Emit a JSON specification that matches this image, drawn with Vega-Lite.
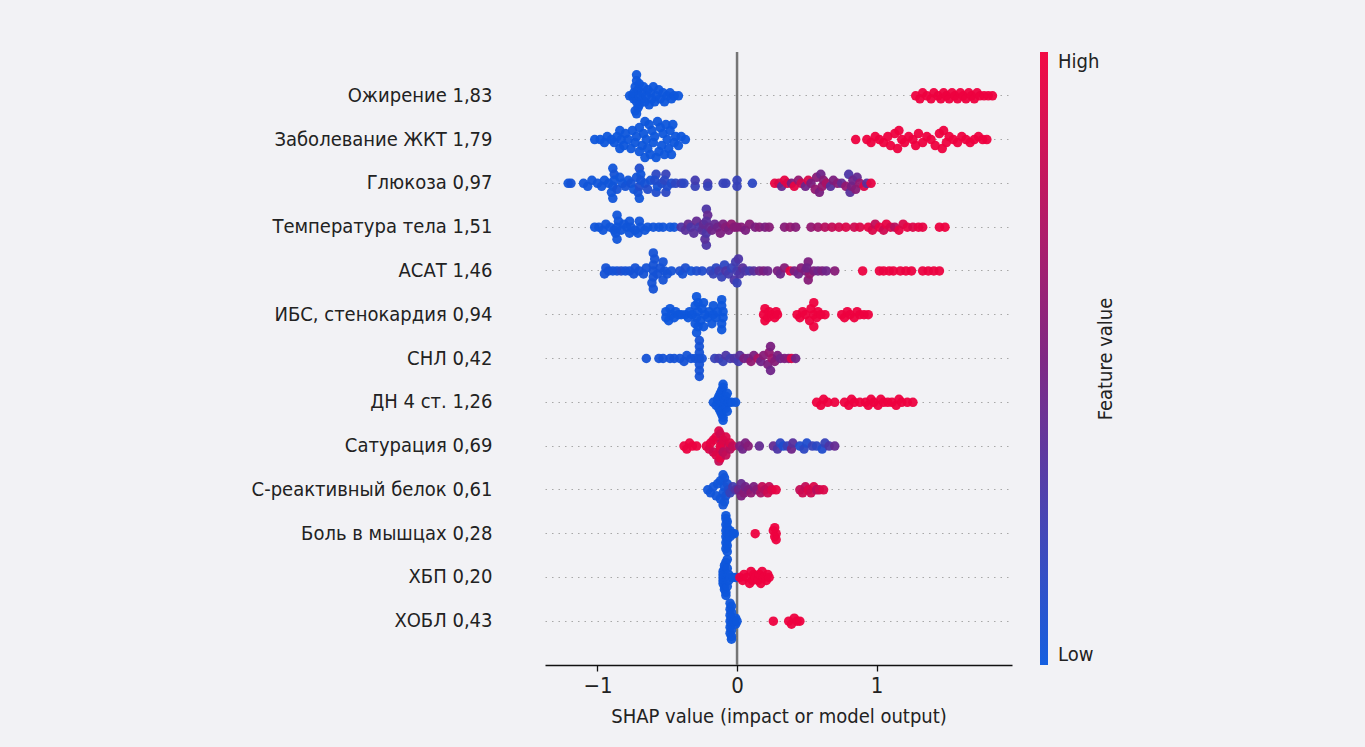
{
  "$schema": "https://vega.github.io/schema/vega-lite/v6.json",
  "width": 467,
  "height": 613,
  "autosize": {"type": "none"},
  "padding": {"left": 545, "top": 52, "right": 353, "bottom": 82},
  "background": "#f2f2f5",
  "config": {
    "view": {"stroke": null},
    "font": "DejaVu Sans Condensed, DejaVu Sans, sans-serif"
  },
  "resolve": {"scale": {"y": "independent"}},
  "datasets": {
    "feat": [
      {"r": 1, "feature": "Ожирение 1,83"},
      {"r": 2, "feature": "Заболевание ЖКТ 1,79"},
      {"r": 3, "feature": "Глюкоза 0,97"},
      {"r": 4, "feature": "Температура тела 1,51"},
      {"r": 5, "feature": "АСАТ 1,46"},
      {"r": 6, "feature": "ИБС, стенокардия 0,94"},
      {"r": 7, "feature": "СНЛ 0,42"},
      {"r": 8, "feature": "ДН 4 ст. 1,26"},
      {"r": 9, "feature": "Сатурация 0,69"},
      {"r": 10, "feature": "С-реактивный белок 0,61"},
      {"r": 11, "feature": "Боль в мышцах 0,28"},
      {"r": 12, "feature": "ХБП 0,20"},
      {"r": 13, "feature": "ХОБЛ 0,43"}
    ],
    "zero": [{"x": 0}],
    "pts": [
      {"r":1,"x":-0.77,"j":0,"c":0.02},{"r":1,"x":-0.75,"j":0,"c":0.02},{"r":1,"x":-0.74,"j":1,"c":0.02},{"r":1,"x":-0.74,"j":-1,"c":0.02},{"r":1,"x":-0.72,"j":-7,"c":0.02},{"r":1,"x":-0.72,"j":-5,"c":0.02},{"r":1,"x":-0.73,"j":-3,"c":0.02},{"r":1,"x":-0.71,"j":-2,"c":0.02},{"r":1,"x":-0.72,"j":2,"c":0.02},{"r":1,"x":-0.71,"j":4,"c":0.02},{"r":1,"x":-0.72,"j":6,"c":0.02},{"r":1,"x":-0.70,"j":-4,"c":0.02},{"r":1,"x":-0.70,"j":0,"c":0.02},{"r":1,"x":-0.70,"j":3,"c":0.02},{"r":1,"x":-0.73,"j":5,"c":0.02},{"r":1,"x":-0.68,"j":-1,"c":0.02},{"r":1,"x":-0.68,"j":1,"c":0.02},{"r":1,"x":-0.67,"j":-3,"c":0.02},{"r":1,"x":-0.66,"j":2,"c":0.02},{"r":1,"x":-0.65,"j":0,"c":0.02},{"r":1,"x":-0.64,"j":-2,"c":0.02},{"r":1,"x":-0.63,"j":3,"c":0.02},{"r":1,"x":-0.62,"j":-1,"c":0.02},{"r":1,"x":-0.61,"j":1,"c":0.02},{"r":1,"x":-0.60,"j":-3,"c":0.02},{"r":1,"x":-0.59,"j":2,"c":0.02},{"r":1,"x":-0.58,"j":0,"c":0.02},{"r":1,"x":-0.56,"j":-2,"c":0.02},{"r":1,"x":-0.55,"j":1,"c":0.02},{"r":1,"x":-0.53,"j":-1,"c":0.02},{"r":1,"x":-0.52,"j":2,"c":0.02},{"r":1,"x":-0.50,"j":0,"c":0.02},{"r":1,"x":-0.48,"j":-1,"c":0.02},{"r":1,"x":-0.47,"j":1,"c":0.02},{"r":1,"x":-0.45,"j":0,"c":0.02},{"r":1,"x":-0.42,"j":0,"c":0.02},
      {"r":1,"x":1.28,"j":0,"c":0.98},{"r":1,"x":1.31,"j":1,"c":0.98},{"r":1,"x":1.33,"j":-1,"c":0.98},{"r":1,"x":1.36,"j":0,"c":0.98},{"r":1,"x":1.39,"j":1,"c":0.98},{"r":1,"x":1.41,"j":-1,"c":0.98},{"r":1,"x":1.44,"j":0,"c":0.98},{"r":1,"x":1.46,"j":1,"c":0.98},{"r":1,"x":1.48,"j":-1,"c":0.98},{"r":1,"x":1.50,"j":0,"c":0.98},{"r":1,"x":1.52,"j":1,"c":0.98},{"r":1,"x":1.54,"j":-1,"c":0.98},{"r":1,"x":1.56,"j":0,"c":0.98},{"r":1,"x":1.58,"j":1,"c":0.98},{"r":1,"x":1.60,"j":-1,"c":0.98},{"r":1,"x":1.62,"j":0,"c":0.98},{"r":1,"x":1.64,"j":1,"c":0.98},{"r":1,"x":1.66,"j":-1,"c":0.98},{"r":1,"x":1.68,"j":0,"c":0.98},{"r":1,"x":1.70,"j":1,"c":0.98},{"r":1,"x":1.72,"j":-1,"c":0.98},{"r":1,"x":1.74,"j":0,"c":0.98},{"r":1,"x":1.77,"j":0,"c":0.98},{"r":1,"x":1.80,"j":0,"c":0.98},{"r":1,"x":1.83,"j":0,"c":0.98},
      {"r":2,"x":-1.02,"j":0,"c":0.02},{"r":2,"x":-0.98,"j":0,"c":0.02},{"r":2,"x":-0.95,"j":1,"c":0.02},{"r":2,"x":-0.93,"j":-1,"c":0.02},{"r":2,"x":-0.90,"j":0,"c":0.02},{"r":2,"x":-0.88,"j":1,"c":0.02},{"r":2,"x":-0.86,"j":-1,"c":0.02},{"r":2,"x":-0.84,"j":3,"c":0.02},{"r":2,"x":-0.84,"j":-3,"c":0.02},{"r":2,"x":-0.83,"j":0,"c":0.02},{"r":2,"x":-0.81,"j":2,"c":0.02},{"r":2,"x":-0.80,"j":-2,"c":0.02},{"r":2,"x":-0.78,"j":0,"c":0.02},{"r":2,"x":-0.76,"j":3,"c":0.02},{"r":2,"x":-0.75,"j":-3,"c":0.02},{"r":2,"x":-0.73,"j":1,"c":0.02},{"r":2,"x":-0.72,"j":-1,"c":0.02},{"r":2,"x":-0.70,"j":4,"c":0.02},{"r":2,"x":-0.70,"j":-4,"c":0.02},{"r":2,"x":-0.68,"j":2,"c":0.02},{"r":2,"x":-0.67,"j":-2,"c":0.02},{"r":2,"x":-0.66,"j":6,"c":0.02},{"r":2,"x":-0.66,"j":-6,"c":0.02},{"r":2,"x":-0.65,"j":0,"c":0.02},{"r":2,"x":-0.64,"j":3,"c":0.02},{"r":2,"x":-0.63,"j":-5,"c":0.02},{"r":2,"x":-0.62,"j":5,"c":0.02},{"r":2,"x":-0.61,"j":-3,"c":0.02},{"r":2,"x":-0.60,"j":1,"c":0.02},{"r":2,"x":-0.59,"j":-1,"c":0.02},{"r":2,"x":-0.58,"j":6,"c":0.02},{"r":2,"x":-0.57,"j":-6,"c":0.02},{"r":2,"x":-0.56,"j":4,"c":0.02},{"r":2,"x":-0.55,"j":-4,"c":0.02},{"r":2,"x":-0.54,"j":2,"c":0.02},{"r":2,"x":-0.53,"j":-2,"c":0.02},{"r":2,"x":-0.52,"j":5,"c":0.02},{"r":2,"x":-0.51,"j":-5,"c":0.02},{"r":2,"x":-0.50,"j":0,"c":0.02},{"r":2,"x":-0.49,"j":3,"c":0.02},{"r":2,"x":-0.48,"j":-3,"c":0.02},{"r":2,"x":-0.47,"j":5,"c":0.02},{"r":2,"x":-0.46,"j":-5,"c":0.02},{"r":2,"x":-0.45,"j":1,"c":0.02},{"r":2,"x":-0.44,"j":-1,"c":0.02},{"r":2,"x":-0.42,"j":2,"c":0.02},{"r":2,"x":-0.40,"j":-1,"c":0.02},{"r":2,"x":-0.37,"j":0,"c":0.02},
      {"r":2,"x":0.85,"j":0,"c":0.98},{"r":2,"x":0.93,"j":0,"c":0.98},{"r":2,"x":0.96,"j":1,"c":0.98},{"r":2,"x":0.99,"j":-1,"c":0.98},{"r":2,"x":1.02,"j":0,"c":0.98},{"r":2,"x":1.05,"j":1,"c":0.98},{"r":2,"x":1.08,"j":-1,"c":0.98},{"r":2,"x":1.10,"j":2,"c":0.98},{"r":2,"x":1.13,"j":-2,"c":0.98},{"r":2,"x":1.15,"j":3,"c":0.98},{"r":2,"x":1.16,"j":-3,"c":0.98},{"r":2,"x":1.18,"j":0,"c":0.98},{"r":2,"x":1.20,"j":1,"c":0.98},{"r":2,"x":1.23,"j":-1,"c":0.98},{"r":2,"x":1.26,"j":0,"c":0.98},{"r":2,"x":1.28,"j":2,"c":0.98},{"r":2,"x":1.30,"j":-2,"c":0.98},{"r":2,"x":1.33,"j":1,"c":0.98},{"r":2,"x":1.36,"j":-1,"c":0.98},{"r":2,"x":1.39,"j":0,"c":0.98},{"r":2,"x":1.42,"j":2,"c":0.98},{"r":2,"x":1.45,"j":-2,"c":0.98},{"r":2,"x":1.47,"j":3,"c":0.98},{"r":2,"x":1.48,"j":-3,"c":0.98},{"r":2,"x":1.50,"j":1,"c":0.98},{"r":2,"x":1.52,"j":-1,"c":0.98},{"r":2,"x":1.55,"j":0,"c":0.98},{"r":2,"x":1.58,"j":1,"c":0.98},{"r":2,"x":1.61,"j":-1,"c":0.98},{"r":2,"x":1.64,"j":0,"c":0.98},{"r":2,"x":1.67,"j":1,"c":0.98},{"r":2,"x":1.70,"j":0,"c":0.98},{"r":2,"x":1.73,"j":-1,"c":0.98},{"r":2,"x":1.76,"j":0,"c":0.98},{"r":2,"x":1.79,"j":0,"c":0.98},
      {"r":3,"x":-1.21,"j":0,"c":0.03},{"r":3,"x":-1.19,"j":0,"c":0.05},{"r":3,"x":-1.10,"j":0,"c":0.03},{"r":3,"x":-1.07,"j":1,"c":0.03},{"r":3,"x":-1.04,"j":-1,"c":0.03},{"r":3,"x":-1.00,"j":0,"c":0.03},{"r":3,"x":-0.97,"j":1,"c":0.03},{"r":3,"x":-0.95,"j":-1,"c":0.03},{"r":3,"x":-0.92,"j":0,"c":0.03},{"r":3,"x":-0.89,"j":5,"c":0.03},{"r":3,"x":-0.89,"j":-5,"c":0.03},{"r":3,"x":-0.90,"j":3,"c":0.03},{"r":3,"x":-0.88,"j":-3,"c":0.05},{"r":3,"x":-0.89,"j":1,"c":0.03},{"r":3,"x":-0.88,"j":-1,"c":0.03},{"r":3,"x":-0.86,"j":2,"c":0.05},{"r":3,"x":-0.84,"j":-2,"c":0.03},{"r":3,"x":-0.82,"j":0,"c":0.03},{"r":3,"x":-0.80,"j":1,"c":0.05},{"r":3,"x":-0.78,"j":-1,"c":0.03},{"r":3,"x":-0.76,"j":0,"c":0.05},{"r":3,"x":-0.74,"j":2,"c":0.03},{"r":3,"x":-0.72,"j":-2,"c":0.05},{"r":3,"x":-0.70,"j":5,"c":0.03},{"r":3,"x":-0.70,"j":-5,"c":0.1},{"r":3,"x":-0.71,"j":3,"c":0.05},{"r":3,"x":-0.69,"j":-3,"c":0.03},{"r":3,"x":-0.70,"j":1,"c":0.1},{"r":3,"x":-0.69,"j":-1,"c":0.05},{"r":3,"x":-0.66,"j":0,"c":0.05},{"r":3,"x":-0.64,"j":2,"c":0.1},{"r":3,"x":-0.62,"j":-1,"c":0.05},{"r":3,"x":-0.58,"j":3,"c":0.1},{"r":3,"x":-0.58,"j":-3,"c":0.15},{"r":3,"x":-0.57,"j":1,"c":0.05},{"r":3,"x":-0.59,"j":-1,"c":0.1},{"r":3,"x":-0.54,"j":0,"c":0.1},{"r":3,"x":-0.51,"j":3,"c":0.15},{"r":3,"x":-0.51,"j":-3,"c":0.2},{"r":3,"x":-0.50,"j":1,"c":0.1},{"r":3,"x":-0.52,"j":-1,"c":0.15},{"r":3,"x":-0.47,"j":0,"c":0.1},{"r":3,"x":-0.44,"j":0,"c":0.15},{"r":3,"x":-0.40,"j":0,"c":0.2},{"r":3,"x":-0.38,"j":0,"c":0.15},{"r":3,"x":-0.30,"j":1,"c":0.2},{"r":3,"x":-0.30,"j":-1,"c":0.25},{"r":3,"x":-0.21,"j":0,"c":0.25},{"r":3,"x":-0.21,"j":1,"c":0.2},{"r":3,"x":-0.10,"j":0,"c":0.2},{"r":3,"x":-0.08,"j":0,"c":0.2},{"r":3,"x":0.0,"j":1,"c":0.2},{"r":3,"x":0.0,"j":-1,"c":0.2},{"r":3,"x":0.11,"j":0,"c":0.15},
      {"r":3,"x":0.27,"j":0,"c":0.95},{"r":3,"x":0.30,"j":0,"c":0.9},{"r":3,"x":0.32,"j":1,"c":0.4},{"r":3,"x":0.34,"j":-1,"c":0.95},{"r":3,"x":0.36,"j":0,"c":0.9},{"r":3,"x":0.39,"j":0,"c":0.5},{"r":3,"x":0.41,"j":1,"c":0.95},{"r":3,"x":0.44,"j":-1,"c":0.6},{"r":3,"x":0.46,"j":0,"c":0.85},{"r":3,"x":0.49,"j":1,"c":0.45},{"r":3,"x":0.51,"j":-1,"c":0.9},{"r":3,"x":0.53,"j":0,"c":0.5},{"r":3,"x":0.56,"j":2,"c":0.6},{"r":3,"x":0.57,"j":-2,"c":0.55},{"r":3,"x":0.59,"j":3,"c":0.5},{"r":3,"x":0.60,"j":-3,"c":0.45},{"r":3,"x":0.61,"j":1,"c":0.6},{"r":3,"x":0.62,"j":-1,"c":0.55},{"r":3,"x":0.64,"j":0,"c":0.7},{"r":3,"x":0.67,"j":1,"c":0.35},{"r":3,"x":0.69,"j":-1,"c":0.5},{"r":3,"x":0.72,"j":0,"c":0.55},{"r":3,"x":0.75,"j":0,"c":0.4},{"r":3,"x":0.78,"j":1,"c":0.6},{"r":3,"x":0.80,"j":-3,"c":0.3},{"r":3,"x":0.81,"j":3,"c":0.35},{"r":3,"x":0.82,"j":1,"c":0.5},{"r":3,"x":0.83,"j":-1,"c":0.45},{"r":3,"x":0.85,"j":2,"c":0.55},{"r":3,"x":0.86,"j":-2,"c":0.4},{"r":3,"x":0.88,"j":0,"c":0.6},{"r":3,"x":0.91,"j":1,"c":0.9},{"r":3,"x":0.93,"j":0,"c":0.35},{"r":3,"x":0.96,"j":0,"c":0.95},
      {"r":4,"x":-1.02,"j":0,"c":0.03},{"r":4,"x":-0.99,"j":0,"c":0.03},{"r":4,"x":-0.96,"j":1,"c":0.03},{"r":4,"x":-0.94,"j":-1,"c":0.03},{"r":4,"x":-0.91,"j":0,"c":0.03},{"r":4,"x":-0.88,"j":1,"c":0.03},{"r":4,"x":-0.86,"j":4,"c":0.03},{"r":4,"x":-0.86,"j":-4,"c":0.03},{"r":4,"x":-0.87,"j":2,"c":0.03},{"r":4,"x":-0.85,"j":-2,"c":0.03},{"r":4,"x":-0.86,"j":0,"c":0.03},{"r":4,"x":-0.83,"j":1,"c":0.03},{"r":4,"x":-0.81,"j":-1,"c":0.03},{"r":4,"x":-0.79,"j":0,"c":0.03},{"r":4,"x":-0.77,"j":2,"c":0.03},{"r":4,"x":-0.77,"j":-2,"c":0.03},{"r":4,"x":-0.76,"j":0,"c":0.03},{"r":4,"x":-0.73,"j":1,"c":0.03},{"r":4,"x":-0.71,"j":2,"c":0.03},{"r":4,"x":-0.70,"j":-2,"c":0.03},{"r":4,"x":-0.69,"j":0,"c":0.03},{"r":4,"x":-0.66,"j":1,"c":0.03},{"r":4,"x":-0.64,"j":0,"c":0.03},{"r":4,"x":-0.60,"j":0,"c":0.03},{"r":4,"x":-0.56,"j":0,"c":0.03},{"r":4,"x":-0.53,"j":0,"c":0.03},{"r":4,"x":-0.48,"j":0,"c":0.03},{"r":4,"x":-0.45,"j":0,"c":0.03},
      {"r":4,"x":-0.40,"j":0,"c":0.3},{"r":4,"x":-0.37,"j":1,"c":0.35},{"r":4,"x":-0.35,"j":-1,"c":0.4},{"r":4,"x":-0.33,"j":0,"c":0.3},{"r":4,"x":-0.31,"j":2,"c":0.35},{"r":4,"x":-0.29,"j":-2,"c":0.4},{"r":4,"x":-0.27,"j":0,"c":0.3},{"r":4,"x":-0.25,"j":1,"c":0.35},{"r":4,"x":-0.24,"j":-1,"c":0.4},{"r":4,"x":-0.22,"j":6,"c":0.3},{"r":4,"x":-0.22,"j":-6,"c":0.3},{"r":4,"x":-0.23,"j":4,"c":0.35},{"r":4,"x":-0.21,"j":-4,"c":0.4},{"r":4,"x":-0.22,"j":2,"c":0.3},{"r":4,"x":-0.22,"j":-2,"c":0.35},{"r":4,"x":-0.20,"j":0,"c":0.4},{"r":4,"x":-0.18,"j":1,"c":0.45},{"r":4,"x":-0.16,"j":-1,"c":0.4},{"r":4,"x":-0.14,"j":0,"c":0.45},{"r":4,"x":-0.12,"j":2,"c":0.5},{"r":4,"x":-0.10,"j":-1,"c":0.5},{"r":4,"x":-0.08,"j":0,"c":0.55},{"r":4,"x":-0.06,"j":1,"c":0.5},{"r":4,"x":-0.04,"j":-1,"c":0.6},{"r":4,"x":-0.02,"j":0,"c":0.55},{"r":4,"x":0.00,"j":0,"c":0.55},
      {"r":4,"x":0.03,"j":0,"c":0.55},{"r":4,"x":0.06,"j":1,"c":0.5},{"r":4,"x":0.09,"j":-1,"c":0.55},{"r":4,"x":0.13,"j":0,"c":0.5},{"r":4,"x":0.16,"j":0,"c":0.55},{"r":4,"x":0.20,"j":0,"c":0.5},{"r":4,"x":0.23,"j":0,"c":0.55},{"r":4,"x":0.34,"j":0,"c":0.55},{"r":4,"x":0.38,"j":0,"c":0.6},{"r":4,"x":0.42,"j":0,"c":0.55},{"r":4,"x":0.53,"j":0,"c":0.6},{"r":4,"x":0.58,"j":0,"c":0.65},{"r":4,"x":0.63,"j":0,"c":0.75},{"r":4,"x":0.68,"j":0,"c":0.8},{"r":4,"x":0.73,"j":0,"c":0.85},{"r":4,"x":0.78,"j":0,"c":0.9},{"r":4,"x":0.84,"j":0,"c":0.85},{"r":4,"x":0.88,"j":0,"c":0.9},{"r":4,"x":0.94,"j":0,"c":0.95},{"r":4,"x":0.97,"j":1,"c":0.9},{"r":4,"x":0.99,"j":-1,"c":0.8},{"r":4,"x":1.02,"j":0,"c":0.95},{"r":4,"x":1.05,"j":1,"c":0.85},{"r":4,"x":1.07,"j":-1,"c":0.95},{"r":4,"x":1.10,"j":0,"c":0.9},{"r":4,"x":1.13,"j":0,"c":0.75},{"r":4,"x":1.16,"j":1,"c":0.95},{"r":4,"x":1.19,"j":-1,"c":0.9},{"r":4,"x":1.22,"j":0,"c":0.95},{"r":4,"x":1.26,"j":0,"c":0.9},{"r":4,"x":1.30,"j":0,"c":0.95},{"r":4,"x":1.33,"j":0,"c":0.95},{"r":4,"x":1.45,"j":0,"c":0.97},{"r":4,"x":1.49,"j":0,"c":0.98},
      {"r":5,"x":-0.95,"j":1,"c":0.05},{"r":5,"x":-0.94,"j":-1,"c":0.05},{"r":5,"x":-0.92,"j":0,"c":0.05},{"r":5,"x":-0.89,"j":0,"c":0.05},{"r":5,"x":-0.86,"j":0,"c":0.05},{"r":5,"x":-0.83,"j":0,"c":0.08},{"r":5,"x":-0.80,"j":0,"c":0.05},{"r":5,"x":-0.77,"j":0,"c":0.05},{"r":5,"x":-0.74,"j":1,"c":0.05},{"r":5,"x":-0.73,"j":-1,"c":0.05},{"r":5,"x":-0.70,"j":0,"c":0.05},{"r":5,"x":-0.67,"j":1,"c":0.05},{"r":5,"x":-0.65,"j":-1,"c":0.05},{"r":5,"x":-0.60,"j":6,"c":0.05},{"r":5,"x":-0.60,"j":-6,"c":0.05},{"r":5,"x":-0.61,"j":4,"c":0.05},{"r":5,"x":-0.59,"j":-4,"c":0.05},{"r":5,"x":-0.60,"j":2,"c":0.05},{"r":5,"x":-0.60,"j":-2,"c":0.05},{"r":5,"x":-0.60,"j":0,"c":0.05},{"r":5,"x":-0.57,"j":1,"c":0.05},{"r":5,"x":-0.55,"j":-1,"c":0.05},{"r":5,"x":-0.53,"j":3,"c":0.05},{"r":5,"x":-0.53,"j":-3,"c":0.05},{"r":5,"x":-0.52,"j":0,"c":0.05},{"r":5,"x":-0.50,"j":1,"c":0.05},{"r":5,"x":-0.47,"j":0,"c":0.05},{"r":5,"x":-0.41,"j":0,"c":0.08},{"r":5,"x":-0.39,"j":1,"c":0.05},{"r":5,"x":-0.37,"j":-1,"c":0.08},{"r":5,"x":-0.33,"j":0,"c":0.05},{"r":5,"x":-0.29,"j":0,"c":0.08},{"r":5,"x":-0.25,"j":0,"c":0.1},
      {"r":5,"x":-0.19,"j":0,"c":0.15},{"r":5,"x":-0.17,"j":1,"c":0.2},{"r":5,"x":-0.15,"j":-1,"c":0.15},{"r":5,"x":-0.13,"j":0,"c":0.25},{"r":5,"x":-0.11,"j":2,"c":0.2},{"r":5,"x":-0.09,"j":-2,"c":0.15},{"r":5,"x":-0.08,"j":0,"c":0.3},{"r":5,"x":-0.06,"j":1,"c":0.25},{"r":5,"x":-0.04,"j":-1,"c":0.2},{"r":5,"x":-0.02,"j":3,"c":0.3},{"r":5,"x":-0.01,"j":-3,"c":0.25},{"r":5,"x":0.00,"j":4,"c":0.2},{"r":5,"x":0.01,"j":-4,"c":0.3},{"r":5,"x":0.00,"j":0,"c":0.25},{"r":5,"x":0.02,"j":1,"c":0.3},{"r":5,"x":0.04,"j":-1,"c":0.35},{"r":5,"x":0.06,"j":0,"c":0.3},{"r":5,"x":0.09,"j":0,"c":0.25},{"r":5,"x":0.12,"j":0,"c":0.35},{"r":5,"x":0.16,"j":0,"c":0.45},{"r":5,"x":0.19,"j":0,"c":0.5},{"r":5,"x":0.22,"j":0,"c":0.45},
      {"r":5,"x":0.29,"j":0,"c":0.5},{"r":5,"x":0.31,"j":1,"c":0.45},{"r":5,"x":0.34,"j":-1,"c":0.55},{"r":5,"x":0.38,"j":0,"c":0.95},{"r":5,"x":0.41,"j":0,"c":0.5},{"r":5,"x":0.44,"j":1,"c":0.45},{"r":5,"x":0.46,"j":-1,"c":0.55},{"r":5,"x":0.49,"j":0,"c":0.5},{"r":5,"x":0.51,"j":3,"c":0.55},{"r":5,"x":0.51,"j":-3,"c":0.5},{"r":5,"x":0.52,"j":1,"c":0.6},{"r":5,"x":0.50,"j":-1,"c":0.45},{"r":5,"x":0.55,"j":0,"c":0.5},{"r":5,"x":0.58,"j":0,"c":0.45},{"r":5,"x":0.61,"j":0,"c":0.5},{"r":5,"x":0.64,"j":0,"c":0.45},{"r":5,"x":0.70,"j":0,"c":0.55},{"r":5,"x":0.90,"j":0,"c":0.97},{"r":5,"x":1.02,"j":0,"c":0.97},{"r":5,"x":1.05,"j":0,"c":0.97},{"r":5,"x":1.09,"j":0,"c":0.97},{"r":5,"x":1.12,"j":0,"c":0.97},{"r":5,"x":1.17,"j":0,"c":0.97},{"r":5,"x":1.21,"j":0,"c":0.97},{"r":5,"x":1.25,"j":0,"c":0.97},{"r":5,"x":1.33,"j":0,"c":0.97},{"r":5,"x":1.37,"j":0,"c":0.97},{"r":5,"x":1.41,"j":0,"c":0.97},{"r":5,"x":1.45,"j":0,"c":0.97},
      {"r":6,"x":-0.51,"j":1,"c":0.02},{"r":6,"x":-0.51,"j":-1,"c":0.02},{"r":6,"x":-0.49,"j":2,"c":0.02},{"r":6,"x":-0.48,"j":-2,"c":0.02},{"r":6,"x":-0.47,"j":0,"c":0.02},{"r":6,"x":-0.45,"j":1,"c":0.02},{"r":6,"x":-0.44,"j":-1,"c":0.02},{"r":6,"x":-0.42,"j":0,"c":0.02},{"r":6,"x":-0.40,"j":0,"c":0.02},{"r":6,"x":-0.37,"j":0,"c":0.02},{"r":6,"x":-0.35,"j":1,"c":0.02},{"r":6,"x":-0.34,"j":-1,"c":0.02},{"r":6,"x":-0.32,"j":0,"c":0.02},{"r":6,"x":-0.30,"j":3,"c":0.02},{"r":6,"x":-0.30,"j":-3,"c":0.02},{"r":6,"x":-0.29,"j":6,"c":0.02},{"r":6,"x":-0.29,"j":-6,"c":0.02},{"r":6,"x":-0.28,"j":4,"c":0.02},{"r":6,"x":-0.28,"j":-4,"c":0.02},{"r":6,"x":-0.29,"j":1,"c":0.02},{"r":6,"x":-0.28,"j":-1,"c":0.02},{"r":6,"x":-0.26,"j":2,"c":0.02},{"r":6,"x":-0.25,"j":-2,"c":0.02},{"r":6,"x":-0.24,"j":4,"c":0.02},{"r":6,"x":-0.24,"j":-4,"c":0.02},{"r":6,"x":-0.23,"j":0,"c":0.02},{"r":6,"x":-0.21,"j":1,"c":0.02},{"r":6,"x":-0.20,"j":-1,"c":0.02},{"r":6,"x":-0.18,"j":3,"c":0.02},{"r":6,"x":-0.17,"j":-3,"c":0.02},{"r":6,"x":-0.17,"j":0,"c":0.02},{"r":6,"x":-0.15,"j":1,"c":0.02},{"r":6,"x":-0.14,"j":-1,"c":0.02},{"r":6,"x":-0.11,"j":5,"c":0.02},{"r":6,"x":-0.11,"j":-5,"c":0.02},{"r":6,"x":-0.11,"j":3,"c":0.02},{"r":6,"x":-0.11,"j":-3,"c":0.02},{"r":6,"x":-0.10,"j":1,"c":0.02},{"r":6,"x":-0.10,"j":-1,"c":0.02},
      {"r":6,"x":0.19,"j":0,"c":0.98},{"r":6,"x":0.20,"j":2,"c":0.98},{"r":6,"x":0.20,"j":-2,"c":0.98},{"r":6,"x":0.22,"j":1,"c":0.98},{"r":6,"x":0.23,"j":-1,"c":0.98},{"r":6,"x":0.25,"j":0,"c":0.98},{"r":6,"x":0.27,"j":1,"c":0.98},{"r":6,"x":0.28,"j":-1,"c":0.98},{"r":6,"x":0.29,"j":0,"c":0.98},{"r":6,"x":0.43,"j":0,"c":0.98},{"r":6,"x":0.45,"j":1,"c":0.98},{"r":6,"x":0.47,"j":-1,"c":0.98},{"r":6,"x":0.49,"j":0,"c":0.98},{"r":6,"x":0.52,"j":2,"c":0.98},{"r":6,"x":0.53,"j":-2,"c":0.98},{"r":6,"x":0.55,"j":4,"c":0.98},{"r":6,"x":0.55,"j":-4,"c":0.98},{"r":6,"x":0.55,"j":0,"c":0.98},{"r":6,"x":0.57,"j":1,"c":0.98},{"r":6,"x":0.58,"j":-1,"c":0.98},{"r":6,"x":0.60,"j":0,"c":0.98},{"r":6,"x":0.63,"j":0,"c":0.98},{"r":6,"x":0.75,"j":0,"c":0.98},{"r":6,"x":0.77,"j":1,"c":0.98},{"r":6,"x":0.79,"j":-1,"c":0.98},{"r":6,"x":0.81,"j":0,"c":0.98},{"r":6,"x":0.84,"j":1,"c":0.98},{"r":6,"x":0.86,"j":-1,"c":0.98},{"r":6,"x":0.88,"j":0,"c":0.98},{"r":6,"x":0.91,"j":0,"c":0.98},{"r":6,"x":0.94,"j":0,"c":0.98},
      {"r":7,"x":-0.65,"j":0,"c":0.05},{"r":7,"x":-0.56,"j":0,"c":0.05},{"r":7,"x":-0.53,"j":0,"c":0.05},{"r":7,"x":-0.48,"j":0,"c":0.05},{"r":7,"x":-0.45,"j":0,"c":0.05},{"r":7,"x":-0.41,"j":0,"c":0.05},{"r":7,"x":-0.38,"j":1,"c":0.05},{"r":7,"x":-0.36,"j":-1,"c":0.05},{"r":7,"x":-0.33,"j":0,"c":0.05},{"r":7,"x":-0.30,"j":0,"c":0.05},{"r":7,"x":-0.27,"j":6,"c":0.05},{"r":7,"x":-0.27,"j":-6,"c":0.05},{"r":7,"x":-0.27,"j":4,"c":0.05},{"r":7,"x":-0.27,"j":-4,"c":0.05},{"r":7,"x":-0.27,"j":2,"c":0.05},{"r":7,"x":-0.27,"j":-2,"c":0.05},{"r":7,"x":-0.27,"j":0,"c":0.05},{"r":7,"x":-0.25,"j":0,"c":0.05},
      {"r":7,"x":-0.16,"j":0,"c":0.2},{"r":7,"x":-0.13,"j":0,"c":0.25},{"r":7,"x":-0.10,"j":1,"c":0.2},{"r":7,"x":-0.08,"j":-1,"c":0.3},{"r":7,"x":-0.05,"j":0,"c":0.25},{"r":7,"x":-0.02,"j":0,"c":0.3},{"r":7,"x":0.01,"j":1,"c":0.25},{"r":7,"x":0.02,"j":-1,"c":0.35},{"r":7,"x":0.05,"j":0,"c":0.5},{"r":7,"x":0.08,"j":0,"c":0.45},{"r":7,"x":0.10,"j":1,"c":0.6},{"r":7,"x":0.12,"j":-1,"c":0.5},{"r":7,"x":0.15,"j":0,"c":0.7},{"r":7,"x":0.17,"j":1,"c":0.45},{"r":7,"x":0.19,"j":-1,"c":0.55},{"r":7,"x":0.22,"j":2,"c":0.5},{"r":7,"x":0.23,"j":-2,"c":0.6},{"r":7,"x":0.24,"j":4,"c":0.45},{"r":7,"x":0.24,"j":-4,"c":0.5},{"r":7,"x":0.25,"j":0,"c":0.65},{"r":7,"x":0.27,"j":1,"c":0.55},{"r":7,"x":0.29,"j":-1,"c":0.5},{"r":7,"x":0.31,"j":0,"c":0.45},{"r":7,"x":0.34,"j":0,"c":0.5},{"r":7,"x":0.37,"j":0,"c":0.55},{"r":7,"x":0.39,"j":0,"c":0.9},{"r":7,"x":0.42,"j":0,"c":0.45},
      {"r":8,"x":-0.17,"j":0,"c":0.02},{"r":8,"x":-0.15,"j":1,"c":0.02},{"r":8,"x":-0.14,"j":-1,"c":0.02},{"r":8,"x":-0.13,"j":2,"c":0.02},{"r":8,"x":-0.13,"j":-2,"c":0.02},{"r":8,"x":-0.12,"j":3,"c":0.02},{"r":8,"x":-0.12,"j":-3,"c":0.02},{"r":8,"x":-0.11,"j":4,"c":0.02},{"r":8,"x":-0.11,"j":-4,"c":0.02},{"r":8,"x":-0.10,"j":5,"c":0.02},{"r":8,"x":-0.10,"j":-5,"c":0.02},{"r":8,"x":-0.10,"j":6,"c":0.02},{"r":8,"x":-0.10,"j":-6,"c":0.02},{"r":8,"x":-0.11,"j":0,"c":0.02},{"r":8,"x":-0.09,"j":1,"c":0.02},{"r":8,"x":-0.09,"j":-1,"c":0.02},{"r":8,"x":-0.08,"j":2,"c":0.02},{"r":8,"x":-0.08,"j":-2,"c":0.02},{"r":8,"x":-0.07,"j":3,"c":0.02},{"r":8,"x":-0.07,"j":-3,"c":0.02},{"r":8,"x":-0.06,"j":0,"c":0.02},{"r":8,"x":-0.04,"j":0,"c":0.02},{"r":8,"x":-0.01,"j":0,"c":0.02},
      {"r":8,"x":0.57,"j":0,"c":0.98},{"r":8,"x":0.60,"j":1,"c":0.98},{"r":8,"x":0.62,"j":-1,"c":0.98},{"r":8,"x":0.65,"j":0,"c":0.98},{"r":8,"x":0.70,"j":0,"c":0.98},{"r":8,"x":0.77,"j":0,"c":0.98},{"r":8,"x":0.80,"j":1,"c":0.98},{"r":8,"x":0.82,"j":-1,"c":0.98},{"r":8,"x":0.84,"j":0,"c":0.98},{"r":8,"x":0.88,"j":0,"c":0.98},{"r":8,"x":0.92,"j":0,"c":0.98},{"r":8,"x":0.94,"j":1,"c":0.98},{"r":8,"x":0.96,"j":-1,"c":0.98},{"r":8,"x":0.98,"j":0,"c":0.98},{"r":8,"x":1.01,"j":1,"c":0.98},{"r":8,"x":1.03,"j":-1,"c":0.98},{"r":8,"x":1.05,"j":0,"c":0.98},{"r":8,"x":1.08,"j":0,"c":0.98},{"r":8,"x":1.11,"j":0,"c":0.98},{"r":8,"x":1.14,"j":1,"c":0.98},{"r":8,"x":1.16,"j":-1,"c":0.98},{"r":8,"x":1.18,"j":0,"c":0.98},{"r":8,"x":1.22,"j":0,"c":0.98},{"r":8,"x":1.26,"j":0,"c":0.98},
      {"r":9,"x":-0.38,"j":0,"c":0.97},{"r":9,"x":-0.36,"j":1,"c":0.97},{"r":9,"x":-0.34,"j":-1,"c":0.97},{"r":9,"x":-0.32,"j":0,"c":0.97},{"r":9,"x":-0.29,"j":0,"c":0.97},{"r":9,"x":-0.22,"j":0,"c":0.95},{"r":9,"x":-0.20,"j":1,"c":0.9},{"r":9,"x":-0.19,"j":-1,"c":0.95},{"r":9,"x":-0.17,"j":2,"c":0.85},{"r":9,"x":-0.17,"j":-2,"c":0.95},{"r":9,"x":-0.15,"j":3,"c":0.9},{"r":9,"x":-0.15,"j":-3,"c":0.95},{"r":9,"x":-0.13,"j":5,"c":0.8},{"r":9,"x":-0.13,"j":-5,"c":0.9},{"r":9,"x":-0.12,"j":4,"c":0.95},{"r":9,"x":-0.12,"j":-4,"c":0.85},{"r":9,"x":-0.12,"j":1,"c":0.9},{"r":9,"x":-0.11,"j":-1,"c":0.7},{"r":9,"x":-0.12,"j":0,"c":0.95},{"r":9,"x":-0.10,"j":2,"c":0.75},{"r":9,"x":-0.10,"j":-2,"c":0.9},{"r":9,"x":-0.08,"j":3,"c":0.8},{"r":9,"x":-0.08,"j":-3,"c":0.9},{"r":9,"x":-0.06,"j":0,"c":0.85},{"r":9,"x":-0.05,"j":1,"c":0.75},{"r":9,"x":-0.05,"j":-1,"c":0.9},{"r":9,"x":-0.03,"j":0,"c":0.8},
      {"r":9,"x":0.02,"j":0,"c":0.5},{"r":9,"x":0.04,"j":1,"c":0.45},{"r":9,"x":0.06,"j":-1,"c":0.5},{"r":9,"x":0.08,"j":0,"c":0.55},{"r":9,"x":0.16,"j":0,"c":0.4},{"r":9,"x":0.26,"j":0,"c":0.4},{"r":9,"x":0.29,"j":1,"c":0.3},{"r":9,"x":0.31,"j":-1,"c":0.15},{"r":9,"x":0.33,"j":0,"c":0.1},{"r":9,"x":0.36,"j":0,"c":0.2},{"r":9,"x":0.39,"j":1,"c":0.45},{"r":9,"x":0.40,"j":-1,"c":0.35},{"r":9,"x":0.45,"j":0,"c":0.1},{"r":9,"x":0.48,"j":1,"c":0.15},{"r":9,"x":0.50,"j":-1,"c":0.1},{"r":9,"x":0.54,"j":0,"c":0.2},{"r":9,"x":0.57,"j":0,"c":0.15},{"r":9,"x":0.61,"j":1,"c":0.1},{"r":9,"x":0.63,"j":-1,"c":0.2},{"r":9,"x":0.66,"j":0,"c":0.3},{"r":9,"x":0.70,"j":0,"c":0.4},
      {"r":10,"x":-0.21,"j":0,"c":0.03},{"r":10,"x":-0.19,"j":1,"c":0.03},{"r":10,"x":-0.17,"j":-1,"c":0.03},{"r":10,"x":-0.15,"j":2,"c":0.03},{"r":10,"x":-0.14,"j":-2,"c":0.03},{"r":10,"x":-0.12,"j":3,"c":0.03},{"r":10,"x":-0.12,"j":-3,"c":0.03},{"r":10,"x":-0.10,"j":5,"c":0.03},{"r":10,"x":-0.10,"j":-5,"c":0.03},{"r":10,"x":-0.09,"j":4,"c":0.03},{"r":10,"x":-0.09,"j":-4,"c":0.03},{"r":10,"x":-0.10,"j":1,"c":0.03},{"r":10,"x":-0.09,"j":-1,"c":0.03},{"r":10,"x":-0.08,"j":2,"c":0.05},{"r":10,"x":-0.07,"j":-2,"c":0.05},{"r":10,"x":-0.06,"j":0,"c":0.1},{"r":10,"x":-0.05,"j":1,"c":0.2},{"r":10,"x":-0.03,"j":-1,"c":0.25},{"r":10,"x":-0.01,"j":0,"c":0.3},
      {"r":10,"x":0.01,"j":0,"c":0.45},{"r":10,"x":0.03,"j":2,"c":0.5},{"r":10,"x":0.03,"j":-2,"c":0.4},{"r":10,"x":0.05,"j":1,"c":0.55},{"r":10,"x":0.06,"j":-1,"c":0.45},{"r":10,"x":0.08,"j":0,"c":0.5},{"r":10,"x":0.10,"j":1,"c":0.6},{"r":10,"x":0.12,"j":-1,"c":0.5},{"r":10,"x":0.14,"j":0,"c":0.55},{"r":10,"x":0.17,"j":1,"c":0.7},{"r":10,"x":0.18,"j":-1,"c":0.8},{"r":10,"x":0.20,"j":0,"c":0.75},{"r":10,"x":0.22,"j":1,"c":0.85},{"r":10,"x":0.23,"j":-1,"c":0.8},{"r":10,"x":0.25,"j":0,"c":0.9},{"r":10,"x":0.28,"j":0,"c":0.95},{"r":10,"x":0.45,"j":0,"c":0.8},{"r":10,"x":0.47,"j":1,"c":0.85},{"r":10,"x":0.49,"j":-1,"c":0.8},{"r":10,"x":0.51,"j":0,"c":0.9},{"r":10,"x":0.53,"j":1,"c":0.85},{"r":10,"x":0.55,"j":-1,"c":0.9},{"r":10,"x":0.57,"j":0,"c":0.75},{"r":10,"x":0.59,"j":0,"c":0.85},{"r":10,"x":0.62,"j":0,"c":0.9},
      {"r":11,"x":-0.08,"j":-6,"c":0.02},{"r":11,"x":-0.08,"j":-5,"c":0.02},{"r":11,"x":-0.07,"j":-4,"c":0.02},{"r":11,"x":-0.08,"j":-3,"c":0.02},{"r":11,"x":-0.07,"j":-2,"c":0.02},{"r":11,"x":-0.08,"j":-1,"c":0.02},{"r":11,"x":-0.07,"j":0,"c":0.02},{"r":11,"x":-0.08,"j":1,"c":0.02},{"r":11,"x":-0.07,"j":2,"c":0.02},{"r":11,"x":-0.08,"j":3,"c":0.02},{"r":11,"x":-0.07,"j":4,"c":0.02},{"r":11,"x":-0.08,"j":5,"c":0.02},{"r":11,"x":-0.07,"j":6,"c":0.02},{"r":11,"x":-0.06,"j":0,"c":0.02},{"r":11,"x":-0.05,"j":-1,"c":0.02},{"r":11,"x":-0.05,"j":1,"c":0.02},{"r":11,"x":-0.03,"j":0,"c":0.02},{"r":11,"x":-0.02,"j":0,"c":0.02},
      {"r":11,"x":0.13,"j":0,"c":0.98},{"r":11,"x":0.26,"j":-1,"c":0.98},{"r":11,"x":0.27,"j":1,"c":0.98},{"r":11,"x":0.28,"j":0,"c":0.98},{"r":11,"x":0.28,"j":2,"c":0.98},{"r":11,"x":0.27,"j":-2,"c":0.98},
      {"r":12,"x":-0.10,"j":0,"c":0.02},{"r":12,"x":-0.10,"j":1,"c":0.02},{"r":12,"x":-0.10,"j":-1,"c":0.02},{"r":12,"x":-0.10,"j":2,"c":0.02},{"r":12,"x":-0.10,"j":-2,"c":0.02},{"r":12,"x":-0.09,"j":3,"c":0.02},{"r":12,"x":-0.09,"j":-3,"c":0.02},{"r":12,"x":-0.09,"j":4,"c":0.02},{"r":12,"x":-0.09,"j":-4,"c":0.02},{"r":12,"x":-0.08,"j":5,"c":0.02},{"r":12,"x":-0.08,"j":-5,"c":0.02},{"r":12,"x":-0.08,"j":6,"c":0.02},{"r":12,"x":-0.07,"j":-6,"c":0.02},{"r":12,"x":-0.07,"j":3,"c":0.02},{"r":12,"x":-0.07,"j":-3,"c":0.02},{"r":12,"x":-0.06,"j":1,"c":0.02},{"r":12,"x":-0.06,"j":-1,"c":0.02},{"r":12,"x":-0.05,"j":0,"c":0.02},{"r":12,"x":-0.03,"j":0,"c":0.02},{"r":12,"x":-0.01,"j":0,"c":0.02},
      {"r":12,"x":0.02,"j":0,"c":0.98},{"r":12,"x":0.04,"j":1,"c":0.98},{"r":12,"x":0.05,"j":-1,"c":0.98},{"r":12,"x":0.07,"j":0,"c":0.98},{"r":12,"x":0.09,"j":2,"c":0.98},{"r":12,"x":0.10,"j":-2,"c":0.98},{"r":12,"x":0.11,"j":1,"c":0.98},{"r":12,"x":0.12,"j":-1,"c":0.98},{"r":12,"x":0.13,"j":0,"c":0.98},{"r":12,"x":0.15,"j":1,"c":0.98},{"r":12,"x":0.16,"j":-1,"c":0.98},{"r":12,"x":0.17,"j":2,"c":0.98},{"r":12,"x":0.18,"j":-2,"c":0.98},{"r":12,"x":0.19,"j":0,"c":0.98},{"r":12,"x":0.21,"j":1,"c":0.98},{"r":12,"x":0.22,"j":-1,"c":0.98},{"r":12,"x":0.23,"j":0,"c":0.98},
      {"r":13,"x":-0.05,"j":-6,"c":0.02},{"r":13,"x":-0.05,"j":-4,"c":0.02},{"r":13,"x":-0.05,"j":-2,"c":0.02},{"r":13,"x":-0.05,"j":0,"c":0.02},{"r":13,"x":-0.05,"j":2,"c":0.02},{"r":13,"x":-0.05,"j":4,"c":0.02},{"r":13,"x":-0.04,"j":6,"c":0.02},{"r":13,"x":-0.04,"j":-5,"c":0.02},{"r":13,"x":-0.04,"j":-3,"c":0.02},{"r":13,"x":-0.04,"j":-1,"c":0.02},{"r":13,"x":-0.04,"j":1,"c":0.02},{"r":13,"x":-0.04,"j":3,"c":0.02},{"r":13,"x":-0.04,"j":5,"c":0.02},{"r":13,"x":-0.02,"j":0,"c":0.02},{"r":13,"x":-0.01,"j":1,"c":0.02},{"r":13,"x":-0.01,"j":-1,"c":0.02},{"r":13,"x":0.00,"j":0,"c":0.02},
      {"r":13,"x":0.26,"j":0,"c":0.98},{"r":13,"x":0.37,"j":0,"c":0.98},{"r":13,"x":0.39,"j":1,"c":0.98},{"r":13,"x":0.41,"j":-1,"c":0.98},{"r":13,"x":0.43,"j":0,"c":0.98},{"r":13,"x":0.45,"j":0,"c":0.98}
    ]
  },
  "layer": [
    {
      "data": {"name": "zero"},
      "mark": {"type": "rule", "color": "#757575", "strokeWidth": 2.5},
      "encoding": {
        "x": {"field": "x", "type": "quantitative", "scale": {"domain": [-1.376, 1.97], "nice": false, "zero": false}}
      }
    },
    {
      "data": {"name": "zero"},
      "mark": {"type": "rule", "opacity": 0},
      "encoding": {
        "y": {
          "field": "x", "type": "quantitative",
          "axis": {
            "orient": "right", "title": "Feature value", "labels": false, "ticks": false, "domain": false, "grid": false,
            "titleAngle": 270, "titleBaseline": "top", "titlePadding": 83,
            "titleFontSize": 20, "titleFontWeight": "normal", "titleColor": "#222222"
          }
        }
      }
    },
    {
      "data": {"name": "pts"},
      "transform": [
        {"lookup": "r", "from": {"data": {"name": "feat"}, "key": "r", "fields": ["feature"]}}
      ],
      "mark": {"type": "point", "filled": true, "size": 90, "opacity": 0.95, "strokeWidth": 0},
      "encoding": {
        "x": {
          "field": "x", "type": "quantitative",
          "scale": {"domain": [-1.376, 1.97], "nice": false, "zero": false},
          "axis": {
            "values": [-1, 0, 1],
            "format": "d",
            "title": "SHAP value (impact or model output)",
            "grid": false,
            "domainColor": "#111111", "domainWidth": 1.3,
            "tickColor": "#111111", "tickSize": 6, "tickWidth": 1.3,
            "labelFontSize": 22, "labelColor": "#222222", "labelPadding": 4,
            "titleFontSize": 20, "titleColor": "#222222", "titleFontWeight": "normal", "titlePadding": 10
          }
        },
        "y": {
          "field": "feature", "type": "nominal",
          "sort": ["Ожирение 1,83", "Заболевание ЖКТ 1,79", "Глюкоза 0,97", "Температура тела 1,51", "АСАТ 1,46", "ИБС, стенокардия 0,94", "СНЛ 0,42", "ДН 4 ст. 1,26", "Сатурация 0,69", "С-реактивный белок 0,61", "Боль в мышцах 0,28", "ХБП 0,20", "ХОБЛ 0,43"],
          "scale": {"paddingInner": 0, "paddingOuter": 0.5},
          "axis": {
            "orient": "left", "title": null, "domain": false, "ticks": false,
            "labelPadding": 53, "labelFontSize": 20, "labelColor": "#222222", "labelLimit": 400,
            "grid": true, "bandPosition": 0.5, "gridColor": "#a8a8a8", "gridDash": [1.5, 5], "gridWidth": 1.2
          }
        },
        "yOffset": {"field": "j", "type": "quantitative", "scale": {"domain": [-7, 7], "range": [0.9, 42.9]}},
        "color": {
          "field": "c", "type": "quantitative",
          "scale": {"domain": [0, 0.5, 1], "range": ["#0a58df", "#7a1e7e", "#f2003c"], "interpolate": "rgb"},
          "legend": {
            "type": "gradient", "direction": "vertical", "orient": "none", "legendX": 495, "legendY": 0, "padding": 0,
            "gradientLength": 613, "gradientThickness": 8, "gradientStrokeWidth": 0,
            "values": [0, 1], "labelExpr": "datum.value >= 1 ? 'High' : 'Low'",
            "labelFontSize": 20, "labelColor": "#222222", "labelOffset": 10,
            "title": null
          }
        }
      }
    }
  ]
}
